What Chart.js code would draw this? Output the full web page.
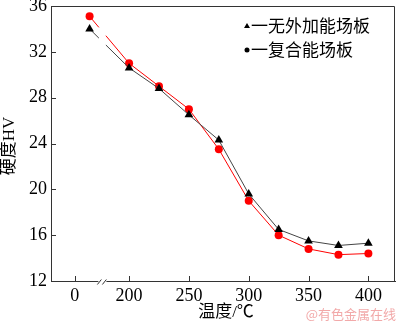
<!DOCTYPE html>
<html>
<head>
<meta charset="utf-8">
<script src="https://cdn.jsdelivr.net/npm/chart.js@4/dist/chart.umd.min.js"></script>
<style>
  html, body { margin: 0; padding: 0; background: #fff; }
  #wrap { width: 400px; height: 323px; position: relative; }
</style>
</head>
<body>
<div id="wrap"><canvas id="myChart"></canvas></div>
<script>
// --- DATI ---
const temps = [25, 200, 225, 250, 275, 300, 325, 350, 375, 400];
const plainHV = [34.0, 30.6, 28.8, 26.5, 24.3, 19.6, 16.5, 15.5, 15.1, 15.3];
const compositeHV = [35.1, 31.0, 29.0, 27.0, 23.5, 19.0, 16.0, 14.8, 14.3, 14.4];
const xTickTemps = [0, 200, 250, 300, 350, 400];
const yTickValues = [12, 16, 20, 24, 28, 32, 36];
const seriesNames = ['一无外加能场板', '一复合能场板'];
const xTitle = '温度/℃';
const yTitle = '硬度HV';
const watermark = '@有色金属在线';

// asse x spezzato: sotto 200 la scala e' compressa
function axisPos(t) {
    return t < 200 ? 154.5 + t * 0.5 : t;
}
const breakPos = 177.7;

const serif = '"Liberation Serif", "Noto Sans CJK SC", serif';
const cjk = '"Noto Sans CJK SC", sans-serif';

function brokenFirstSegment(ctx) {
    if (ctx.p0DataIndex !== 0) return undefined;
    const xs = ctx.chart.scales.x;
    const bx = xs.getPixelForValue(breakPos);
    const dx = ctx.p1.x - ctx.p0.x;
    const dy = ctx.p1.y - ctx.p0.y;
    const len = Math.hypot(dx, dy);
    const f = len / dx;
    return [(bx - 3.5 - ctx.p0.x) * f, 7 * f, len];
}

const extras = {
    id: 'extras',
    afterDraw(chart) {
        const c = chart.ctx;
        const a = chart.chartArea;
        const xs = chart.scales.x, ys = chart.scales.y;
        c.save();
        c.strokeStyle = '#333';
        c.lineWidth = 1;
        // cornice sopra e a destra
        c.beginPath();
        c.moveTo(a.left, a.top + 0.5);
        c.lineTo(a.right - 0.5, a.top + 0.5);
        c.lineTo(a.right - 0.5, a.bottom);
        c.stroke();
        // tacche verso l'interno
        c.beginPath();
        xs.ticks.forEach(t => {
            const px = Math.round(xs.getPixelForValue(t.value)) + 0.5;
            c.moveTo(px, a.bottom);
            c.lineTo(px, a.bottom - 5);
        });
        ys.ticks.forEach(t => {
            const py = Math.round(ys.getPixelForValue(t.value)) + 0.5;
            c.moveTo(a.left, py);
            c.lineTo(a.left + 5, py);
        });
        c.stroke();
        // interruzione asse x "//"
        const bx = xs.getPixelForValue(breakPos);
        c.fillStyle = '#fff';
        c.fillRect(bx - 4, a.bottom - 2, 8, 4);
        c.beginPath();
        c.moveTo(bx - 5, a.bottom + 3.5);
        c.lineTo(bx - 1, a.bottom - 1.5);
        c.moveTo(bx, a.bottom + 3.5);
        c.lineTo(bx + 4, a.bottom - 1.5);
        c.stroke();

        // titoli assi
        c.fillStyle = '#000';
        c.font = '17px ' + serif;
        c.textAlign = 'center';
        c.textBaseline = 'middle';
        c.fillText(xTitle, 226, 313);
        c.save();
        c.translate(10, 146);
        c.rotate(-Math.PI / 2);
        c.fillText(yTitle, 0, 0);
        c.restore();

        // legenda
        const lx = 247;
        const rows = [26, 50];
        c.fillStyle = '#000';
        c.beginPath();
        c.moveTo(lx, rows[0] - 3);
        c.lineTo(lx + 3, rows[0] + 2);
        c.lineTo(lx - 3, rows[0] + 2);
        c.closePath();
        c.fill();
        c.beginPath();
        c.arc(lx, rows[1], 2.5, 0, Math.PI * 2);
        c.fill();
        c.font = '17px ' + cjk;
        c.textAlign = 'left';
        seriesNames.forEach((name, i) => c.fillText(name, 251, rows[i]));

        // filigrana
        c.fillStyle = '#f2a9a9';
        c.font = '13px ' + cjk;
        c.textAlign = 'right';
        c.fillText(watermark, 396, 314);
        c.restore();
    }
};

const ctx = document.getElementById('myChart').getContext('2d');
new Chart(ctx, {
    type: 'line',
    data: {
        datasets: [
            {
                label: seriesNames[0],
                data: temps.map((t, i) => ({ x: axisPos(t), y: plainHV[i] })),
                borderColor: '#444',
                borderWidth: 1,
                pointStyle: 'triangle',
                pointRadius: 5,
                pointBackgroundColor: '#000',
                pointBorderColor: '#000',
                pointBorderWidth: 0,
                segment: { borderDash: brokenFirstSegment }
            },
            {
                label: seriesNames[1],
                data: temps.map((t, i) => ({ x: axisPos(t), y: compositeHV[i] })),
                borderColor: '#f00',
                borderWidth: 1,
                pointStyle: 'circle',
                pointRadius: 4,
                pointBackgroundColor: '#f00',
                pointBorderColor: '#f00',
                pointBorderWidth: 0,
                segment: { borderDash: brokenFirstSegment }
            }
        ]
    },
    options: {
        responsive: true,
        maintainAspectRatio: false,
        animation: false,
        layout: { padding: { left: 0, top: 6, right: 4, bottom: 0 } },
        plugins: {
            legend: { display: false },
            tooltip: { enabled: false }
        },
        scales: {
            x: {
                type: 'linear',
                min: 134.75,
                max: 422.25,
                afterBuildTicks: s => { s.ticks = xTickTemps.map(t => ({ value: axisPos(t) })); },
                afterFit: s => {
                    s.height = 42;
                    s.paddingLeft = 0; s.paddingRight = 0;
                },
                grid: { display: false, drawTicks: false },
                border: { display: true, color: '#333', width: 1 },
                ticks: {
                    autoSkip: false,
                    maxRotation: 0,
                    padding: 4,
                    color: '#000',
                    font: { family: serif, size: 18 },
                    callback: v => {
                        const i = xTickTemps.findIndex(t => Math.abs(axisPos(t) - v) < 0.01);
                        return i >= 0 ? String(xTickTemps[i]) : '';
                    }
                }
            },
            y: {
                min: 12,
                max: 36,
                afterBuildTicks: s => { s.ticks = yTickValues.map(v => ({ value: v })); },
                afterFit: s => {
                    s.width = 51;
                    s.paddingTop = 0; s.paddingBottom = 0;
                },
                grid: { display: false, drawTicks: false },
                border: { display: true, color: '#333', width: 1 },
                ticks: {
                    padding: 4,
                    color: '#000',
                    font: { family: serif, size: 18 }
                }
            }
        }
    },
    plugins: [extras]
});
</script>
</body>
</html>
